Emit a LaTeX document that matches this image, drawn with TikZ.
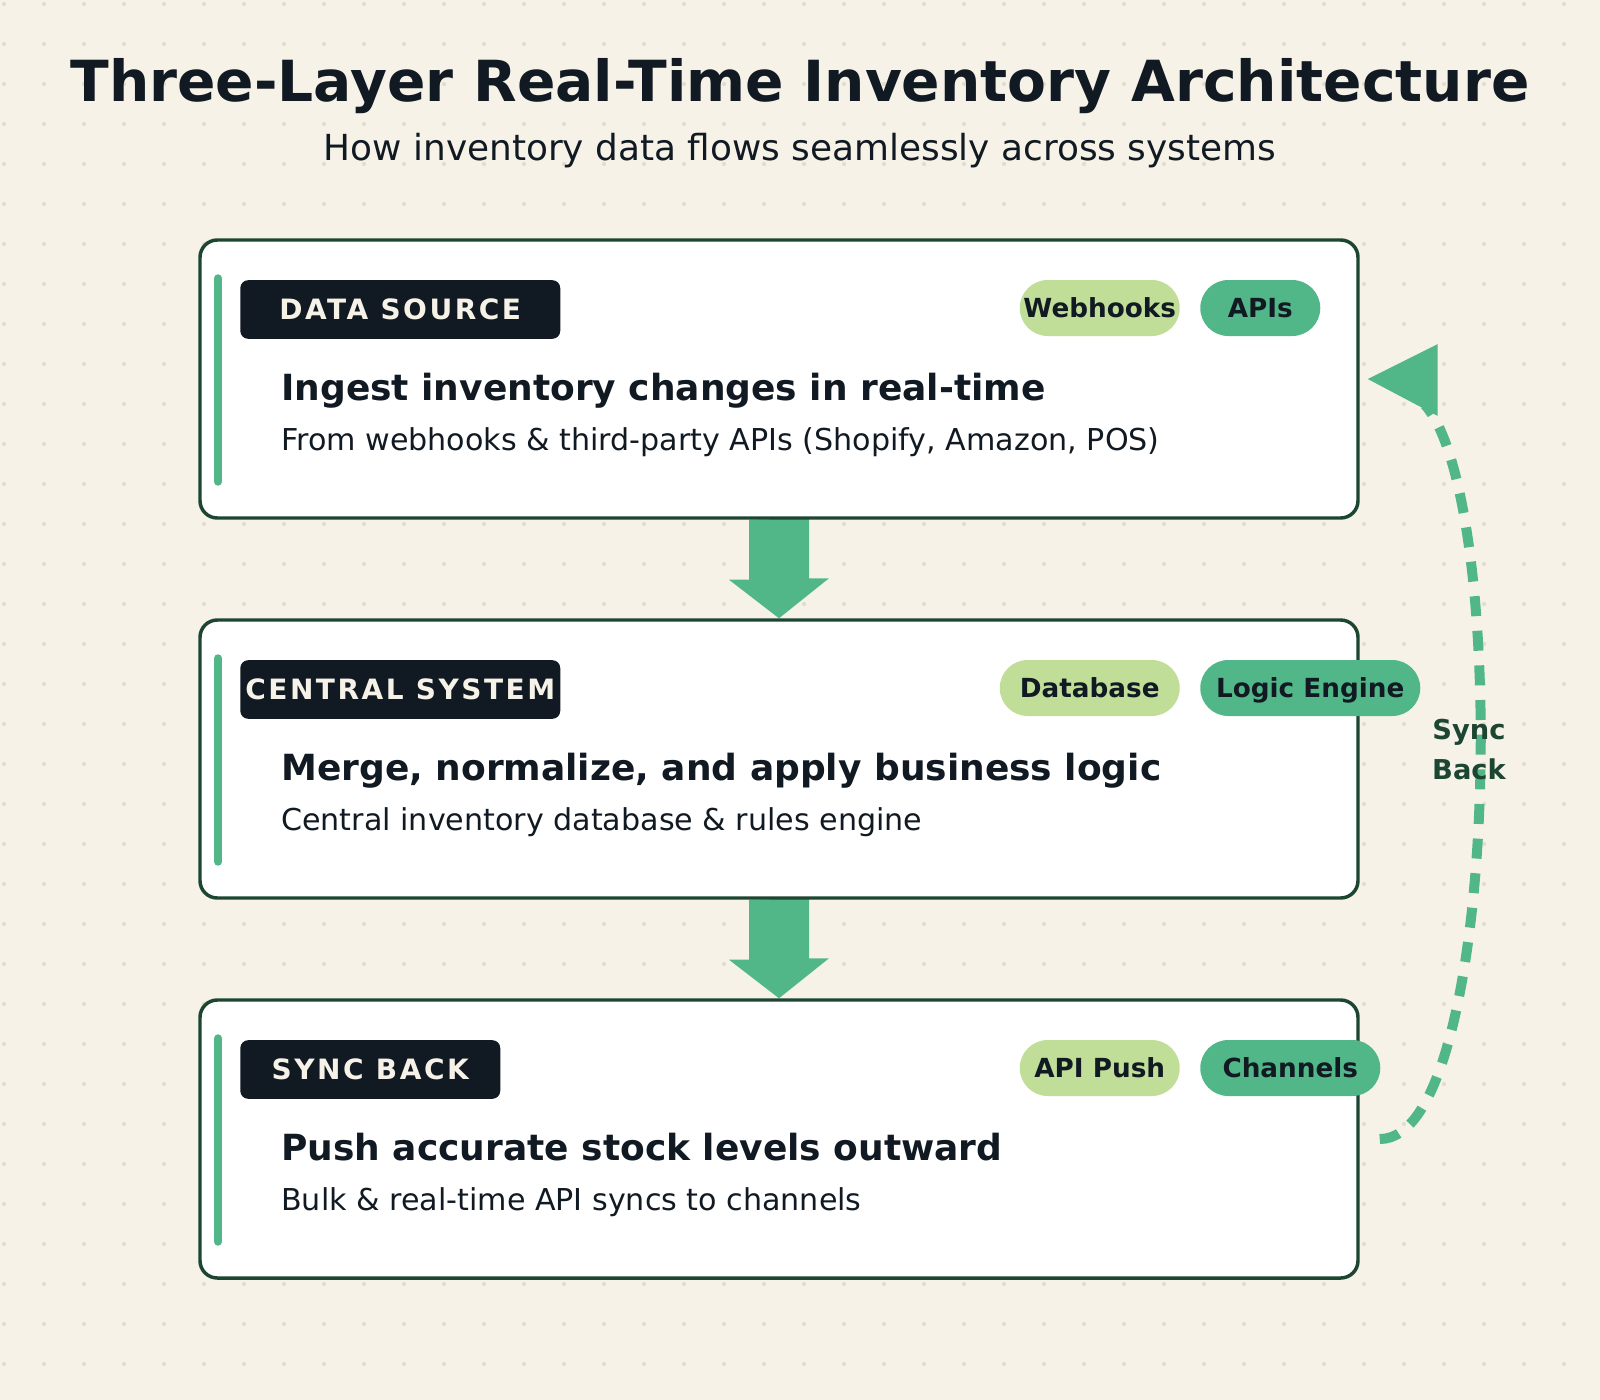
\documentclass[tikz,border=0pt]{standalone}
\usepackage{fontspec}
\setmainfont{DejaVu Sans}
\newfontfamily\tagfont[LetterSpace=9]{DejaVu Sans}
\usetikzlibrary{calc}

\definecolor{paper}{HTML}{F6F2E8}
\definecolor{dotc}{HTML}{E2DECF}
\definecolor{ink}{HTML}{111A22}
\definecolor{pine}{HTML}{1C4532}
\definecolor{leaf}{HTML}{52B788}
\definecolor{lime}{HTML}{C0DE98}

\pgfdeclarelayer{back}
\pgfsetlayers{back,main}

\begin{document}
\begin{tikzpicture}[x=0.75pt, y=-0.75pt,
    layer/.style={draw=pine, line width=2.6pt, fill=white, rounded corners=13pt,
      minimum width=868.5pt, minimum height=208.5pt, inner sep=0pt},
    tagbox/.style={fill=ink, text=paper, rounded corners=6pt, minimum height=44pt,
      inner sep=0pt, text height=15.3pt, text depth=0pt, font=\tagfont\bfseries\fontsize{21}{25}\selectfont},
    pill/.style={rounded corners=21pt, minimum height=42pt, inner sep=0pt, text=ink,
      text height=14.4pt, text depth=0pt, font=\bfseries\fontsize{19.7}{23}\selectfont},
    headtext/.style={anchor=base west, inner sep=0pt, text=ink, font=\bfseries\fontsize{27}{32}\selectfont},
    desctext/.style={anchor=base west, inner sep=0pt, text=ink, font=\fontsize{22.6}{27}\selectfont}]
        \useasboundingbox (0,0) rectangle (1600,1400);

        % paper and dot grid
        \begin{pgfonlayer}{back}
            \fill[paper] (0,0) rectangle (1600,1400);
            \foreach \i in {0,...,39} {
                \foreach \j in {0,...,34} {
                    \fill[dotc] (4+40*\i,4+40*\j) circle[radius=1.6pt];
                }
            }
        \end{pgfonlayer}

        % title
        \node[anchor=base, text=ink, font=\bfseries\fontsize{42.5}{48}\selectfont] (title) at (800,101)
            {Three-Layer Real-Time Inventory Architecture};
        \node[anchor=base, text=ink, font=\fontsize{26.9}{31}\selectfont] (subtitle) at (800,160)
            {How inventory data flows seamlessly across systems};

        % the three layers
        \foreach \n/\y/\tag/\tw/\head/\desc in {
            1/240/DATA SOURCE/240/{Ingest inventory changes in real-time}/{From webhooks \& third-party APIs (Shopify, Amazon, POS)},
            2/620/CENTRAL SYSTEM/240/{Merge, normalize, and apply business logic}/{Central inventory database \& rules engine},
            3/1000/SYNC BACK/195/{Push accurate stock levels outward}/{Bulk \& real-time API syncs to channels}} {
            \node[layer] (l\n) at (779,\y+139) {};
            \draw[leaf, line width=6pt, line cap=round] ($(l\n.north west)+(20,40)$) -- ($(l\n.south west)+(20,-38)$);
            \node[tagbox, minimum width=\tw pt, anchor=west] (t\n) at (240,\y+69.5) {\tag};
            \node[headtext] (h\n) at (281,\y+160) {\head};
            \node[desctext] (d\n) at (281,\y+210) {\desc};
        }

        % pills
        \node[pill, fill=lime, minimum width=120pt, anchor=east] (p1a) at (1180,308) {Webhooks};
        \node[pill, fill=leaf, minimum width=90pt, anchor=west] (p1b) at (1200,308) {APIs};
        \node[pill, fill=lime, minimum width=135pt, anchor=east] (p2a) at (1180,688) {Database};
        \node[pill, fill=leaf, minimum width=165pt, anchor=west] (p2b) at (1200,688) {Logic Engine};
        \node[pill, fill=lime, minimum width=120pt, anchor=east] (p3a) at (1180,1068) {API Push};
        \node[pill, fill=leaf, minimum width=135pt, anchor=west] (p3b) at (1200,1068) {Channels};

        % flow arrows
        \begin{pgfonlayer}{back}
            \foreach \a/\b in {l1/l2, l2/l3} {
                \fill[leaf] ($(\a.south)+(-30,0)$) -- ++(0,60) -- ++(-20,0) -- (\b.north)
                    -- ++(50,-40) -- ++(-20,0) -- ++(0,-60) -- cycle;
            }
        \end{pgfonlayer}

        % sync back loop
        \coordinate (s0) at ($(l3.east)+(20,0)$);
        \coordinate (s1) at (1425,405);
        \draw[leaf, line width=7.5pt, dash pattern=on 15pt off 11pt] (s0) .. controls (1500,1140) and (1510,500) .. (s1);
        \fill[leaf] ($(l1.east)+(8,0)$) -- ++(70,-35) -- ++(0,72) -- cycle;
        \node[align=center, text=pine, font=\bfseries\fontsize{20.5}{30}\selectfont] (synclbl) at (1469,750) {Sync\\Back};
    \end{tikzpicture}
\end{document}
